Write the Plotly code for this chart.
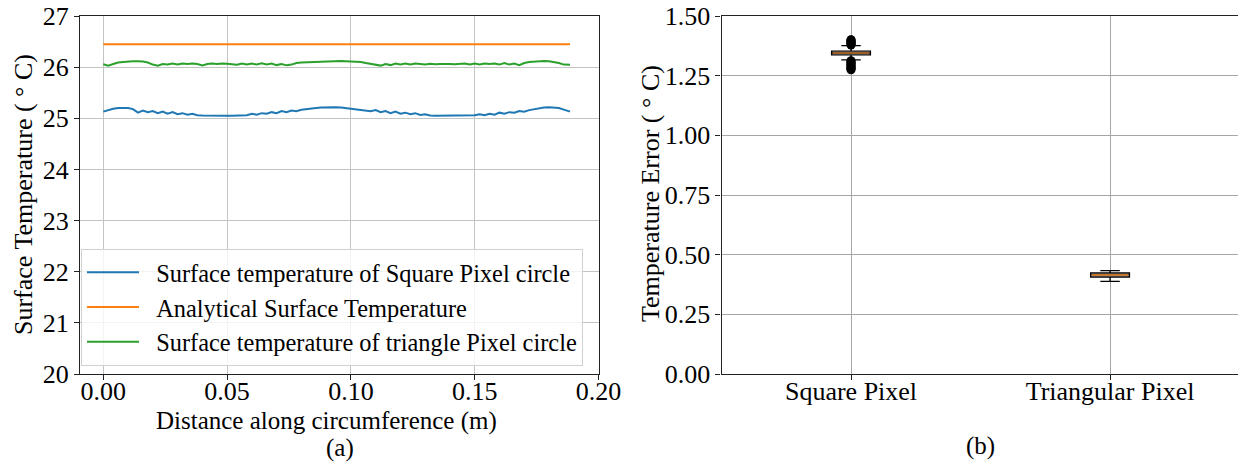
import plotly.graph_objects as go

# ---------------- data: panel (a) ----------------
distance = [0.000, 0.002, 0.004, 0.006, 0.008, 0.010, 0.012, 0.014, 0.016, 0.018,
            0.020, 0.022, 0.024, 0.026, 0.028, 0.030, 0.032, 0.034, 0.036, 0.038,
            0.040, 0.042, 0.044, 0.046, 0.048, 0.050, 0.052, 0.054, 0.056, 0.058,
            0.060, 0.062, 0.064, 0.066, 0.068, 0.070, 0.072, 0.074, 0.076, 0.078,
            0.080, 0.082, 0.084, 0.086, 0.088, 0.090, 0.092, 0.094, 0.096, 0.098,
            0.100, 0.102, 0.104, 0.106, 0.108, 0.110, 0.112, 0.114, 0.116, 0.118,
            0.120, 0.122, 0.124, 0.126, 0.128, 0.130, 0.132, 0.134, 0.136, 0.138,
            0.140, 0.142, 0.144, 0.146, 0.148, 0.150, 0.152, 0.154, 0.156, 0.158,
            0.160, 0.162, 0.164, 0.166, 0.168, 0.170, 0.172, 0.174, 0.176, 0.178,
            0.180, 0.182, 0.184, 0.186, 0.1885]

square_temp = [25.13, 25.16, 25.185, 25.20, 25.205, 25.20, 25.18, 25.11, 25.15, 25.12,
               25.14, 25.10, 25.13, 25.09, 25.12, 25.08, 25.10, 25.07, 25.09, 25.06,
               25.055, 25.052, 25.05, 25.05, 25.05, 25.05, 25.052, 25.055, 25.07, 25.06,
               25.09, 25.07, 25.10, 25.09, 25.12, 25.10, 25.14, 25.12, 25.15, 25.14,
               25.165, 25.18, 25.19, 25.20, 25.21, 25.215, 25.215, 25.215, 25.21, 25.20,
               25.19, 25.18, 25.17, 25.15, 25.14, 25.16, 25.12, 25.14, 25.10, 25.13,
               25.09, 25.11, 25.08, 25.10, 25.065, 25.08, 25.055, 25.05, 25.05, 25.05,
               25.05, 25.05, 25.05, 25.05, 25.05, 25.06, 25.08, 25.06, 25.09, 25.07,
               25.11, 25.09, 25.12, 25.11, 25.14, 25.13, 25.16, 25.18, 25.20, 25.21,
               25.215, 25.21, 25.20, 25.17, 25.13]

triangle_temp = [26.055, 26.03, 26.06, 26.09, 26.10, 26.11, 26.115, 26.115, 26.11, 26.09,
                 26.05, 26.03, 26.06, 26.05, 26.07, 26.05, 26.07, 26.06, 26.07, 26.06,
                 26.035, 26.06, 26.07, 26.06, 26.07, 26.065, 26.06, 26.045, 26.07, 26.05,
                 26.07, 26.05, 26.075, 26.05, 26.07, 26.04, 26.06, 26.035, 26.05, 26.08,
                 26.09, 26.095, 26.10, 26.105, 26.11, 26.115, 26.12, 26.12, 26.12, 26.115,
                 26.11, 26.10, 26.10, 26.08, 26.06, 26.04, 26.03, 26.06, 26.04, 26.07,
                 26.05, 26.07, 26.05, 26.07, 26.06, 26.05, 26.065, 26.055, 26.06, 26.065,
                 26.06, 26.055, 26.06, 26.07, 26.05, 26.07, 26.05, 26.07, 26.06, 26.07,
                 26.05, 26.08, 26.05, 26.07, 26.04, 26.08, 26.10, 26.11, 26.12, 26.12,
                 26.115, 26.10, 26.08, 26.05, 26.045]

analytical_x = [0.0, 0.1885]
analytical_temp = [26.45, 26.45]

# ---------------- data: panel (b) ----------------
box_labels = ["Square Pixel", "Triangular Pixel"]
box_pos = [1, 2]
box_q1 = [1.337, 0.4065]
box_median = [1.345, 0.415]
box_q3 = [1.353, 0.4232]
box_low = [1.316, 0.388]
box_high = [1.376, 0.433]
square_fliers = [1.378, 1.381, 1.384, 1.387, 1.390, 1.393, 1.396, 1.399, 1.401,
                 1.313, 1.309, 1.305, 1.301, 1.297, 1.293, 1.289, 1.285, 1.281,
                 1.278, 1.275]

W, H = 1238, 463
FONT = "Liberation Serif, Times New Roman, Times, serif"
BLUE, ORANGE, GREEN = "#1f77b4", "#ff7f0e", "#2ca02c"
NB = "\u00a0\u00a0"

fig = go.Figure()

fig.add_trace(go.Scatter(x=distance, y=square_temp, mode="lines",
                         line=dict(color=BLUE, width=2),
                         name=NB + "Surface temperature of Square Pixel circle",
                         xaxis="x", yaxis="y"))
fig.add_trace(go.Scatter(x=analytical_x, y=analytical_temp, mode="lines",
                         line=dict(color=ORANGE, width=2),
                         name=NB + "Analytical Surface Temperature",
                         xaxis="x", yaxis="y"))
fig.add_trace(go.Scatter(x=distance, y=triangle_temp, mode="lines",
                         line=dict(color=GREEN, width=2),
                         name=NB + "Surface temperature of triangle Pixel circle",
                         xaxis="x", yaxis="y"))

box_w = 0.15
for i in range(2):
    fig.add_trace(go.Box(x=[box_pos[i]], q1=[box_q1[i]], median=[box_median[i]],
                         q3=[box_q3[i]], lowerfence=[box_low[i]],
                         upperfence=[box_high[i]], width=box_w, whiskerwidth=0.5,
                         line=dict(color="black", width=1.3), fillcolor="white",
                         boxpoints=False, showlegend=False, hoverinfo="skip",
                         xaxis="x2", yaxis="y2"))
    fig.add_trace(go.Scatter(x=[box_pos[i] - box_w / 2 + 0.004,
                                box_pos[i] + box_w / 2 - 0.004],
                             y=[box_median[i], box_median[i]], mode="lines",
                             line=dict(color=ORANGE, width=1.2), showlegend=False,
                             xaxis="x2", yaxis="y2"))

fig.add_trace(go.Scatter(x=[box_pos[0]] * len(square_fliers), y=square_fliers,
                         mode="markers",
                         marker=dict(color="black", size=9, symbol="circle"),
                         showlegend=False, xaxis="x2", yaxis="y2"))

tickfont = dict(family=FONT, size=26, color="black")
ax_common = dict(showline=True, linecolor="#222222", linewidth=1.2,
                 ticks="outside", ticklen=5, tickcolor="#222222", tickwidth=1,
                 tickfont=tickfont, automargin=False, zeroline=False)

x0a, x1a = 80 / W, 599 / W
x0b, x1b = 721.5 / W, 1.0

fig.update_layout(
    width=W, height=H,
    margin=dict(l=0, r=0, t=16, b=89),
    paper_bgcolor="white", plot_bgcolor="white",
    font=dict(family=FONT, size=24, color="black"),
    xaxis=dict(domain=[x0a, x1a], range=[-0.0094, 0.2002],
               tickvals=[0.0, 0.05, 0.10, 0.15, 0.20],
               ticktext=["0.00", "0.05", "0.10", "0.15", "0.20"],
               showgrid=True, gridcolor="#c4c4c4", gridwidth=1,
               ticklabelstandoff=-11,
               mirror=True, anchor="y", **ax_common),
    yaxis=dict(domain=[0, 1], range=[20, 27], dtick=1,
               showgrid=True, gridcolor="#c4c4c4", gridwidth=1,
               mirror=True, anchor="x", **ax_common),
    xaxis2=dict(domain=[x0b, x1b], range=[0.5, 2.494],
                tickvals=box_pos, ticktext=box_labels,
                showgrid=True, gridcolor="#a6a6a6", gridwidth=1,
                ticklabelstandoff=-11,
                mirror=True, anchor="y2", **ax_common),
    yaxis2=dict(domain=[0, 1], range=[0, 1.5],
                tickvals=[0, 0.25, 0.5, 0.75, 1.0, 1.25, 1.5],
                ticktext=["0.00", "0.25", "0.50", "0.75", "1.00", "1.25", "1.50"],
                showgrid=True, gridcolor="#a6a6a6", gridwidth=1,
                mirror=False, anchor="x2", **ax_common),
    legend=dict(x=81 / W, y=(374 - 249) / 358, xanchor="left", yanchor="top",
                bgcolor="rgba(255,255,255,0.8)", bordercolor="#d0d0d0",
                borderwidth=1, font=dict(family=FONT, size=24.4, color="black"),
                itemwidth=52),
    showlegend=True,
)

def ann(text, x_px, y_px, angle=0, size=25):
    fig.add_annotation(text=text, xref="paper", yref="paper",
                       x=x_px / W, y=(374 - y_px) / 358,
                       xanchor="center", yanchor="middle", showarrow=False,
                       textangle=angle,
                       font=dict(family=FONT, size=size, color="black"))

ann("Surface Temperature ( ° C)", 23, 195, -90, 26)
ann("Distance along circumference (m)", 326, 421, 0, 25)
ann("(a)", 340, 448, 0, 25)
ann("Temperature Error ( ° C)", 650, 194, -90, 26)
ann("(b)", 980, 446, 0, 25)

fig.write_html("out.html")
